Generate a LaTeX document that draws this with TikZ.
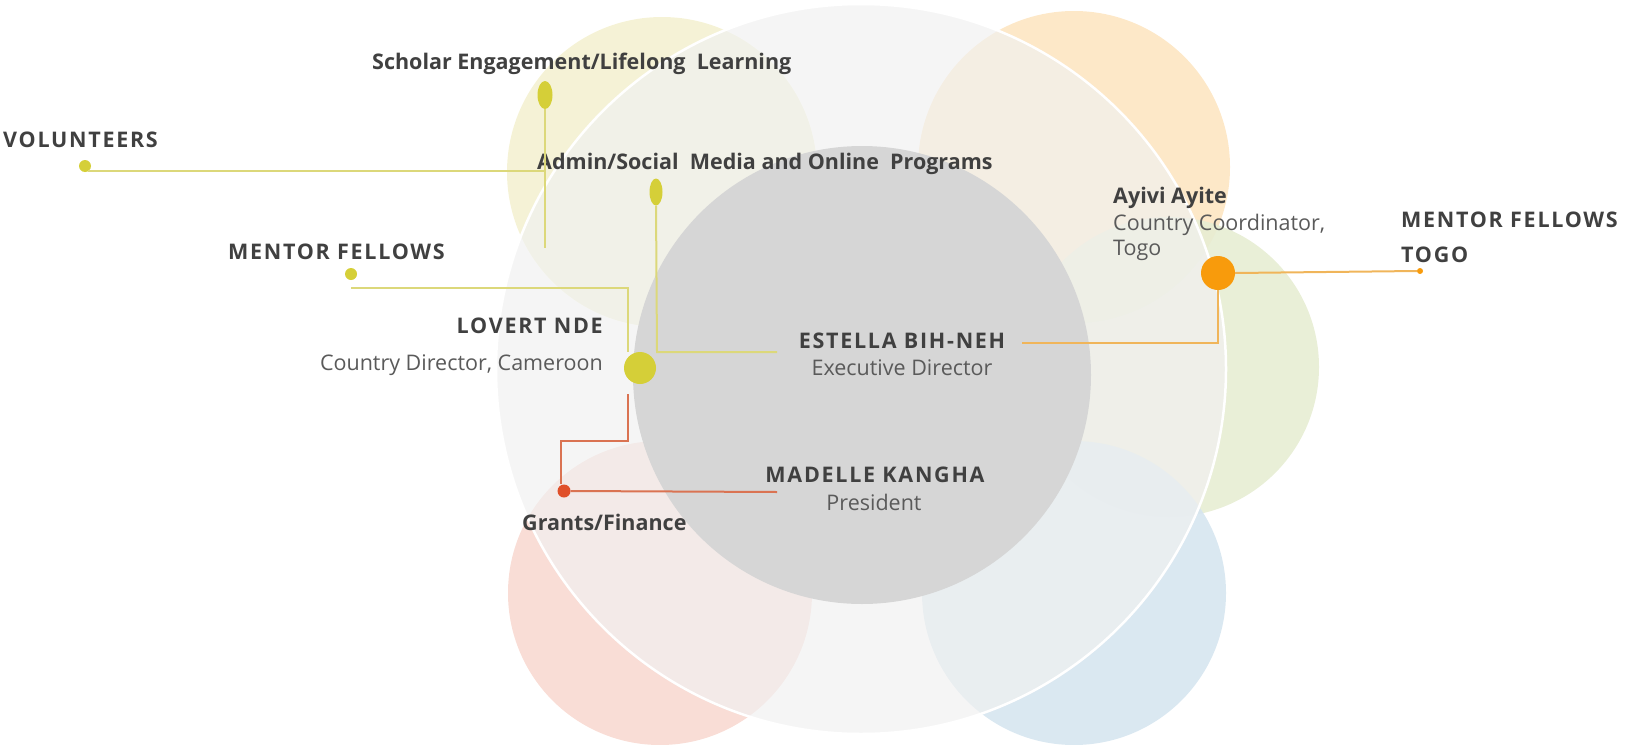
\documentclass[tikz,border=0pt]{standalone}
\usepackage{fontspec}
\setmainfont{Open Sans}
\newfontfamily\capsfont[LetterSpace=8]{Open Sans}
\usetikzlibrary{shapes.geometric}
\definecolor{petY}{HTML}{F4F1D2}
\definecolor{petO}{HTML}{FDE5C2}
\definecolor{petG}{HTML}{E7EDD3}
\definecolor{petB}{HTML}{D6E5F0}
\definecolor{petR}{HTML}{F8D9D1}
\definecolor{bigc}{HTML}{F1F1F1}
\definecolor{innc}{HTML}{D6D6D6}
\definecolor{dotY}{HTML}{D5CF38}
\definecolor{lnY}{HTML}{DCD87A}
\definecolor{dotO}{HTML}{F89B0C}
\definecolor{lnO}{HTML}{F0B55A}
\definecolor{dotR}{HTML}{E0502A}
\definecolor{lnR}{HTML}{DA7352}
\definecolor{txB}{HTML}{404040}
\definecolor{txR}{HTML}{5A5A5A}
\tikzset{
  petal/.style={fill=#1, fill opacity=0.9, draw=none},
  boldlbl/.style={inner sep=0pt, text=txB, font=\fontsize{21.5}{25}\selectfont\bfseries},
  capslbl/.style={inner sep=0pt, text=txB, font=\fontsize{21.5}{25}\selectfont\capsfont\bfseries},
  reglbl/.style={inner sep=0pt, text=txR, font=\fontsize{21.5}{25}\selectfont},
  lnYs/.style={draw=lnY, line width=2pt},
  lnOs/.style={draw=lnO, line width=2pt},
  lnRs/.style={draw=lnR, line width=2pt},
  rdot/.style={circle, fill=#1, draw=none, inner sep=0pt},
  edot/.style={ellipse, fill=dotY, draw=none, inner sep=0pt, minimum width=13pt, minimum height=27pt},
}
\begin{document}
\begin{tikzpicture}[x=1pt,y=-1pt]
\useasboundingbox (0,0) rectangle (1627,744);
% petals
\fill[petal=petY] (662,172) circle (155);
\fill[petal=petO] (1074,167) circle (156);
\fill[petal=petG] (1169,367) circle (150);
\fill[petal=petB] (1074,593) circle (152);
\fill[petal=petR] (660,593) circle (152);
% big circle
\fill[bigc, fill opacity=0.68] (861,369) circle (365);
\draw[white, line width=2.5pt] (861,369) circle (365);
% inner circle
\fill[innc] (862,375) circle (229);

% dots
\node[edot, minimum width=15pt, minimum height=28pt] (schdot) at (545,95) {};
\node[edot] (admdot) at (656,192) {};
\node[rdot=dotY, minimum size=12pt] (voldot) at (85,166) {};
\node[rdot=dotY, minimum size=12pt] (mfdot) at (351,274) {};
\node[rdot=dotY, minimum size=32pt] (lvdot) at (640,368) {};
\node[rdot=dotR, minimum size=13pt] (grdot) at (564,491) {};
\node[rdot=dotO, minimum size=34pt] (aydot) at (1218,273) {};
\node[rdot=dotO, minimum size=6pt] (mtdot) at (1420,271) {};

% labels
\node[boldlbl, anchor=base west] (sch) at (372,69) {Scholar Engagement/Lifelong\ \ Learning};
\node[capslbl, anchor=base west] (vol) at (3,147) {VOLUNTEERS};
\node[boldlbl, anchor=base west] (adm) at (537,169) {Admin/Social\ \ Media and Online\ \ Programs};
\node[capslbl, anchor=base west] (mfl) at (228,259) {MENTOR FELLOWS};
\node[capslbl, anchor=base east] (lv) at (603,333) {LOVERT NDE};
\node[reglbl, anchor=base east] (lvt) at (603,370) {Country Director, Cameroon};
\node[capslbl, anchor=base] (es) at (902,348) {ESTELLA BIH-NEH};
\node[reglbl, anchor=base] (est) at (902,375) {Executive Director};
\node[capslbl, anchor=base] (md) at (875,482) {MADELLE KANGHA};
\node[reglbl, anchor=base] (mdt) at (874,510) {President};
\node[boldlbl, anchor=base west] (gr) at (522,530) {Grants/Finance};
\node[boldlbl, anchor=base west] (ay) at (1113,203) {Ayivi Ayite};
\node[reglbl, anchor=base west] (ayt) at (1113,230) {Country Coordinator,};
\node[reglbl, anchor=base west] (ayt2) at (1113,255) {Togo};
\node[capslbl, anchor=base west] (mft) at (1401,227) {MENTOR FELLOWS};
\node[capslbl, anchor=base west] (mft2) at (1401,262) {TOGO};

% connector corners
\coordinate (schB) at (545,248);
\coordinate (volJ) at (545,171);
\coordinate (admC) at (657,352);
\coordinate (admE) at (777,352);
\coordinate (mfC) at (628,288);
\coordinate (mfS) at (351,288);
\coordinate (lvB) at (628,441);
\coordinate (grC) at (561,441);
\coordinate (mdE) at (777,492);
\coordinate (ayC) at (1219,343);
\coordinate (esE) at (1022,343);

% connectors
\draw[lnYs] (schdot.south) -- (schB);
\draw[lnYs] (voldot.south east) |- (volJ);
\draw[lnYs] (admdot.south) -- (admC) -- (admE);
\draw[lnYs] (mfS) -- (mfC) -- (lvdot.north -| mfC);
\draw[lnRs] (lvdot.south -| lvB) ++(0,10) -- (lvB) -- (grC) -- (grdot.north -| grC);
\draw[lnRs] (grdot.east) -- (mdE);
\draw[lnOs] (aydot.east) -- (mtdot.west);
\draw[lnOs] (aydot.south) |- (esE);
\end{tikzpicture}
\end{document}
